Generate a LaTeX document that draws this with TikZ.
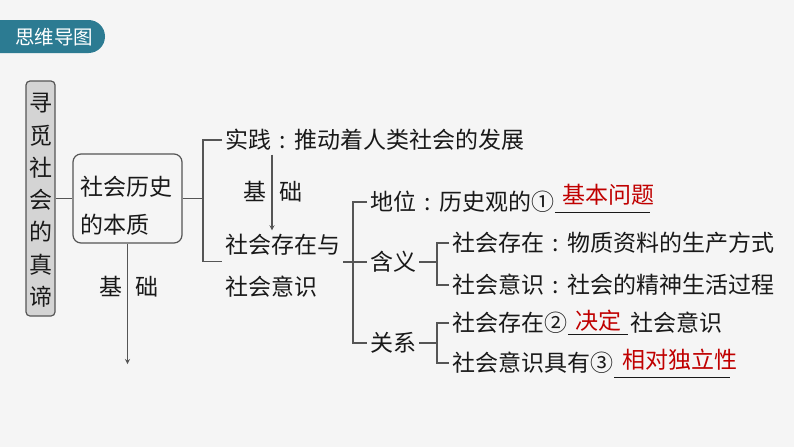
\documentclass[tikz,border=0pt]{standalone}
\usepackage{fontspec}
\setmainfont{Noto Sans CJK SC}
\usetikzlibrary{calc}
\definecolor{bgcol}{RGB}{245,245,245}
\definecolor{hdrcol}{RGB}{44,123,146}
\definecolor{linecol}{RGB}{85,85,85}
\definecolor{txtcol}{RGB}{25,25,25}
\definecolor{anscol}{RGB}{192,0,0}
\definecolor{boxcol}{RGB}{212,212,212}
\newcommand\zcolon{\makebox[1em][c]{:}}
\tikzset{
  txt/.style={inner sep=3pt,text=txtcol,font=\fontsize{23}{23}\selectfont,
    text height=20.24pt,text depth=2.76pt},
  ans/.style={txt,text=anscol,inner xsep=0pt,inner ysep=#1},
  conn/.style={draw=linecol,line width=1.2pt},
  blank/.style={draw=txtcol,line width=1.2pt},
}
\begin{document}
\begin{tikzpicture}[x=1pt,y=-1pt]
\fill[bgcol] (0,0) rectangle (794,447);
\useasboundingbox (0,0) rectangle (794,447);
% header tab
\fill[hdrcol] (0,20) -- (88.5,20) arc[start angle=-90,end angle=90,radius=16.5] -- (0,53) -- cycle;
\node[text=white,font=\fontsize{19.5}{19.5}\selectfont] (hdr) at (54,37) {思维导图};
% title
\node[draw=linecol,fill=boxcol,line width=1.2pt,rounded corners=4pt,minimum width=29pt,minimum height=235pt] (title) at (40.5,198.5) {};
\foreach \ch [count=\i] in {寻,觅,社,会,的,真,谛} {\node[txt] (t\i) at (40.5,{103+(\i-1)*32.3}) {\ch};}
\node[draw=linecol,line width=1.2pt,rounded corners=8pt,minimum width=109pt,minimum height=89pt] (hist) at (127.5,198.5) {};
\node[txt,anchor=west] (hist1) at (77,187) {社会历史};
\node[txt,anchor=west] (hist2) at (77,225) {的本质};
\draw[conn] (title.east) -- (hist.west);
\coordinate (histend) at (127.5,364);
\draw[conn,-stealth] (hist.south) -- (histend);
\node[txt] (jc1) at (111,287) {基};
\node[txt] (jc2) at (147,287) {础};
% second level
\node[txt,anchor=west] (sj) at (222,140) {实践\zcolon 推动着人类社会的发展};
\node[txt,anchor=west] (sh1) at (222,245) {社会存在与};
\node[txt,anchor=west] (sh2) at (222,287) {社会意识};
\coordinate (b1) at (203,0);
\coordinate (shmid) at ($(sh1.west)!0.4!(sh2.west)$);
\draw[conn] (hist.east) -- (hist.east -| b1);
\draw[conn] (sj.west) -- (sj.west -| b1) -- (shmid -| b1) -- (shmid);
\coordinate (jc) at (272,0);
\draw[conn,-stealth] (sj.south -| jc) -- (sh1.north -| jc);
\node[txt] (jc3) at (255,192) {基};
\node[txt] (jc4) at (291,192) {础};
% third level
\node[txt,anchor=west] (dw) at (367,202) {地位\zcolon 历史观的①};
\node[ans=5.5pt,minimum width=95pt] (ans1) at (608.5,195) {基本问题};
\draw[blank] ([xshift=-6pt]ans1.south west) -- ([xshift=-6pt]ans1.south east);
\node[txt,anchor=west] (hy) at (367,262) {含义};
\node[txt,anchor=west] (gx) at (367,343) {关系};
\coordinate (b2) at (353,0);
\draw[conn] (hy.west -| sh1.east) -- (hy.west);
\draw[conn] (dw.west) -- (dw.west -| b2) -- (gx.west -| b2) -- (gx.west);
% fourth level
\coordinate (b3) at (437,0);
\node[txt,anchor=west] (hy1) at (449,243) {社会存在\zcolon 物质资料的生产方式};
\node[txt,anchor=west] (hy2) at (449,285) {社会意识\zcolon 社会的精神生活过程};
\draw[conn] (hy.east) -- (hy.east -| b3);
\draw[conn] (hy1.west) -- (hy1.west -| b3) -- (hy2.west -| b3) -- (hy2.west);
\node[txt,anchor=west] (gx1) at (449,323) {社会存在②};
\node[ans=1.5pt,minimum width=60pt] (ans2) at (598,321) {决定};
\draw[blank] (ans2.south west) -- (ans2.south east);
\node[txt,anchor=west] (gx1b) at (627,323) {社会意识};
\node[txt,anchor=west] (gx2) at (449,363) {社会意识具有③};
\node[ans=5.5pt,minimum width=112pt] (ans3) at (680,360) {相对独立性};
\draw[blank] ([xshift=-8pt]ans3.south west) -- ([xshift=-8pt]ans3.south east);
\draw[conn] (gx.east) -- (gx.east -| b3);
\draw[conn] (gx1.west) -- (gx1.west -| b3) -- (gx2.west -| b3) -- (gx2.west);
\end{tikzpicture}
\end{document}
